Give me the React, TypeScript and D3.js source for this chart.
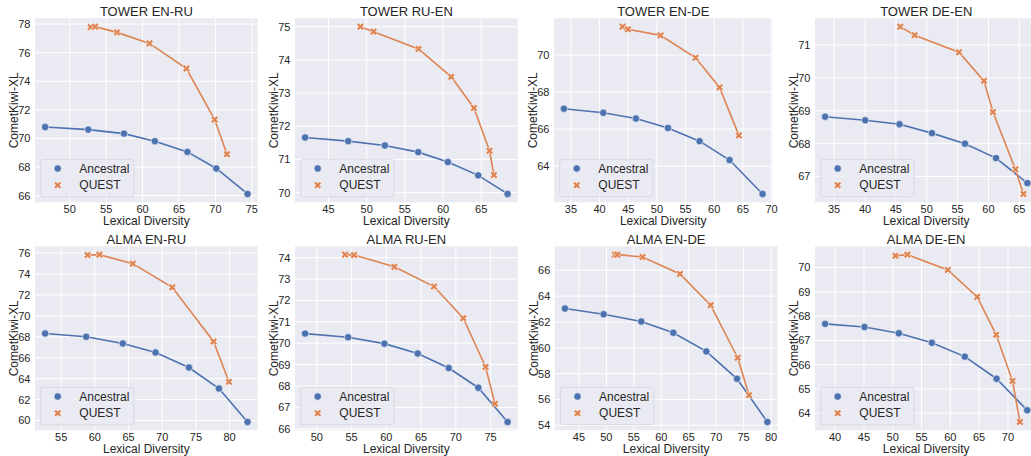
import React from "react";
import * as d3 from "d3";

// ---------- data ----------
const titles = [
  "TOWER EN-RU", "TOWER RU-EN", "TOWER EN-DE", "TOWER DE-EN",
  "ALMA EN-RU", "ALMA RU-EN", "ALMA EN-DE", "ALMA DE-EN",
];
const seriesNames = ["Ancestral", "QUEST"];

const towerEnRuAncX = [46.62, 52.55, 57.44, 61.68, 66.15, 70.12, 74.41];
const towerEnRuAncY = [70.80, 70.62, 70.34, 69.81, 69.06, 67.90, 66.12];
const towerEnRuQuestX = [52.87, 53.47, 56.48, 60.95, 66.01, 69.89, 71.58];
const towerEnRuQuestY = [77.79, 77.82, 77.42, 76.65, 74.89, 71.32, 68.90];

const towerRuEnAncX = [41.94, 47.58, 52.38, 56.75, 60.63, 64.61, 68.45];
const towerRuEnAncY = [71.66, 71.55, 71.42, 71.22, 70.92, 70.52, 69.96];
const towerRuEnQuestX = [49.19, 50.90, 56.79, 61.07, 64.04, 66.09, 66.66];
const towerRuEnQuestY = [75.0, 74.85, 74.33, 73.49, 72.55, 71.26, 70.53];

const towerEnDeAncX = [33.78, 40.64, 46.34, 51.92, 57.44, 62.67, 68.43];
const towerEnDeAncY = [67.10, 66.88, 66.57, 66.06, 65.35, 64.33, 62.50];
const towerEnDeQuestX = [44.01, 44.94, 50.64, 56.74, 60.93, 64.30];
const towerEnDeQuestY = [71.53, 71.39, 71.06, 69.85, 68.25, 65.66];

const towerDeEnAncX = [33.54, 40.03, 45.59, 50.84, 56.19, 61.22, 66.30];
const towerDeEnAncY = [68.82, 68.71, 68.59, 68.32, 68.0, 67.56, 66.80];
const towerDeEnQuestX = [45.70, 48.03, 55.22, 59.27, 60.73, 64.35, 65.65];
const towerDeEnQuestY = [71.56, 71.30, 70.78, 69.91, 68.96, 67.22, 66.47];

const almaEnRuAncX = [52.62, 58.71, 64.16, 69.01, 73.96, 78.42, 82.67];
const almaEnRuAncY = [68.32, 68.0, 67.36, 66.50, 65.07, 63.06, 59.87];
const almaEnRuQuestX = [58.91, 60.69, 65.64, 71.49, 77.62, 79.90];
const almaEnRuQuestY = [75.81, 75.84, 74.98, 72.72, 67.55, 63.70];

const almaRuEnAncX = [48.32, 54.50, 59.72, 64.51, 68.97, 73.23, 77.44];
const almaRuEnAncY = [70.45, 70.28, 69.98, 69.52, 68.84, 67.92, 66.32];
const almaRuEnQuestX = [54.07, 55.36, 61.16, 66.86, 71.07, 74.28, 75.62];
const almaRuEnQuestY = [74.14, 74.12, 73.57, 72.65, 71.17, 68.89, 67.17];

const almaEnDeAncX = [42.45, 49.50, 56.36, 62.19, 68.21, 73.80, 79.33];
const almaEnDeAncY = [63.04, 62.60, 62.03, 61.16, 59.72, 57.60, 54.26];
const almaEnDeQuestX = [51.56, 51.99, 56.60, 63.41, 69.0, 73.92, 75.98];
const almaEnDeQuestY = [67.21, 67.21, 67.03, 65.72, 63.30, 59.23, 56.34];

const almaDeEnAncX = [38.26, 45.10, 51.06, 56.79, 62.52, 68.03, 73.35];
const almaDeEnAncY = [67.68, 67.55, 67.29, 66.90, 66.33, 65.42, 64.12];
const almaDeEnQuestX = [50.48, 52.56, 59.57, 64.67, 67.97, 70.80, 72.08];
const almaDeEnQuestY = [70.48, 70.53, 69.90, 68.79, 67.23, 65.33, 63.64];

const xTicks = [
  [50, 55, 60, 65, 70, 75],
  [45, 50, 55, 60, 65],
  [35, 40, 45, 50, 55, 60, 65, 70],
  [35, 40, 45, 50, 55, 60, 65],
  [55, 60, 65, 70, 75, 80],
  [50, 55, 60, 65, 70, 75],
  [45, 50, 55, 60, 65, 70, 75, 80],
  [40, 45, 50, 55, 60, 65, 70],
];
const yTicks = [
  [66, 68, 70, 72, 74, 76, 78],
  [70, 71, 72, 73, 74, 75],
  [64, 66, 68, 70],
  [67, 68, 69, 70, 71],
  [60, 62, 64, 66, 68, 70, 72, 74, 76],
  [66, 67, 68, 69, 70, 71, 72, 73, 74],
  [54, 56, 58, 60, 62, 64, 66],
  [64, 65, 66, 67, 68, 69, 70],
];

const ancX = [towerEnRuAncX, towerRuEnAncX, towerEnDeAncX, towerDeEnAncX, almaEnRuAncX, almaRuEnAncX, almaEnDeAncX, almaDeEnAncX];
const ancY = [towerEnRuAncY, towerRuEnAncY, towerEnDeAncY, towerDeEnAncY, almaEnRuAncY, almaRuEnAncY, almaEnDeAncY, almaDeEnAncY];
const questX = [towerEnRuQuestX, towerRuEnQuestX, towerEnDeQuestX, towerDeEnQuestX, almaEnRuQuestX, almaRuEnQuestX, almaEnDeQuestX, almaDeEnQuestX];
const questY = [towerEnRuQuestY, towerRuEnQuestY, towerEnDeQuestY, towerDeEnQuestY, almaEnRuQuestY, almaRuEnQuestY, almaEnDeQuestY, almaDeEnQuestY];

// ---------- layout ----------
const W = 1031;
const H = 456;
const panelLeft = [35, 295, 554, 815, 35, 295, 554.8, 815];
const panelWidth = [222.7, 222.7, 218.5, 222.5, 222.7, 222.7, 222.7, 222.3];
const rowTop = [18.3, 246.3];
const panelHeight = 184;

const BLUE = "#4C72B0";
const ORANGE = "#DD8452";
const BG = "#EAEAF2";
const TEXT = "#262626";
const FONT = "'Liberation Sans', Arial, Helvetica, sans-serif";

const padExtent = (vals: number[]): [number, number] => {
  const [a, b] = d3.extent(vals) as [number, number];
  const m = (b - a) * 0.05;
  return [a - m, b + m];
};

// matplotlib filled "X" marker
const xMarkerPath = (s: number) => {
  const pts = [
    [-0.25, -0.5], [0, -0.25], [0.25, -0.5], [0.5, -0.25], [0.25, 0],
    [0.5, 0.25], [0.25, 0.5], [0, 0.25], [-0.25, 0.5], [-0.5, 0.25],
    [-0.25, 0], [-0.5, -0.25],
  ];
  return "M" + pts.map(([x, y]) => `${x * s},${y * s}`).join("L") + "Z";
};

const Panel = ({ i }: { i: number }) => {
  const left = panelLeft[i];
  const top = rowTop[i < 4 ? 0 : 1];
  const w = panelWidth[i];
  const h = panelHeight;
  const allX = [...ancX[i], ...questX[i]];
  const allY = [...ancY[i], ...questY[i]];
  const x = d3.scaleLinear().domain(padExtent(allX)).range([0, w]);
  const y = d3.scaleLinear().domain(padExtent(allY)).range([h, 0]);
  const line = d3.line<[number, number]>().x((d) => x(d[0])).y((d) => y(d[1]));
  const anc = ancX[i].map((v, k) => [v, ancY[i][k]] as [number, number]);
  const qst = questX[i].map((v, k) => [v, questY[i][k]] as [number, number]);
  const xt = xTicks[i].filter((t) => x(t) >= 0 && x(t) <= w);
  const yt = yTicks[i].filter((t) => y(t) >= 0 && y(t) <= h);

  return (
    <g transform={`translate(${left},${top})`}>
      <rect x={0} y={0} width={w} height={h} fill={BG} />
      {xt.map((t) => (
        <line key={"gx" + t} x1={x(t)} x2={x(t)} y1={0} y2={h} stroke="#fff" strokeWidth={1} />
      ))}
      {yt.map((t) => (
        <line key={"gy" + t} x1={0} x2={w} y1={y(t)} y2={y(t)} stroke="#fff" strokeWidth={1} />
      ))}
      {xt.map((t) => (
        <text key={"tx" + t} x={x(t)} y={h + 11} fontSize={11} textAnchor="middle" fill={TEXT} fontFamily={FONT}>
          {t}
        </text>
      ))}
      {yt.map((t) => (
        <text key={"ty" + t} x={-4.5} y={y(t) + 3.9} fontSize={11} textAnchor="end" fill={TEXT} fontFamily={FONT}>
          {t}
        </text>
      ))}
      <text x={w / 2} y={-2.3} fontSize={13} textAnchor="middle" fill={TEXT} fontFamily={FONT}>
        {titles[i]}
      </text>
      <text x={w / 2} y={h + 22.5} fontSize={12} textAnchor="middle" fill={TEXT} fontFamily={FONT}>
        Lexical Diversity
      </text>
      <text
        transform={`translate(${-17},${h / 2}) rotate(-90)`}
        fontSize={12}
        textAnchor="middle"
        fill={TEXT}
        fontFamily={FONT}
      >
        CometKiwi-XL
      </text>
      <path d={line(anc) || ""} fill="none" stroke={BLUE} strokeWidth={1.6} />
      <path d={line(qst) || ""} fill="none" stroke={ORANGE} strokeWidth={1.6} />
      {anc.map((d, k) => (
        <circle key={"a" + k} cx={x(d[0])} cy={y(d[1])} r={3.7} fill={BLUE} stroke="#fff" strokeWidth={0.6} />
      ))}
      {qst.map((d, k) => (
        <path
          key={"q" + k}
          d={xMarkerPath(7.6)}
          transform={`translate(${x(d[0])},${y(d[1])})`}
          fill={ORANGE}
          stroke="#fff"
          strokeWidth={0.6}
        />
      ))}
      <g transform={`translate(5.7,${h - 5.6 - 37.3})`}>
        <rect x={0} y={0} width={93.3} height={37.3} rx={2.5} fill={BG} fillOpacity={0.8} stroke="#d4d4dc" strokeWidth={0.8} />
        <circle cx={17} cy={9.1} r={3.7} fill={BLUE} stroke="#fff" strokeWidth={0.6} />
        <text x={38.6} y={9.1 + 4.3} fontSize={12} fill={TEXT} fontFamily={FONT}>
          {seriesNames[0]}
        </text>
        <path d={xMarkerPath(7.6)} transform="translate(17,25.8)" fill={ORANGE} stroke="#fff" strokeWidth={0.6} />
        <text x={38.6} y={25.8 + 4.3} fontSize={12} fill={TEXT} fontFamily={FONT}>
          {seriesNames[1]}
        </text>
      </g>
    </g>
  );
};

export default function App() {
  return (
    <svg
      width={W}
      height={H}
      viewBox={`0 0 ${W} ${H}`}
      style={{ position: "absolute", left: 0, top: 0, background: "#fff" }}
    >
      <rect x={0} y={0} width={W} height={H} fill="#fff" />
      {titles.map((_, i) => (
        <Panel key={i} i={i} />
      ))}
    </svg>
  );
}
